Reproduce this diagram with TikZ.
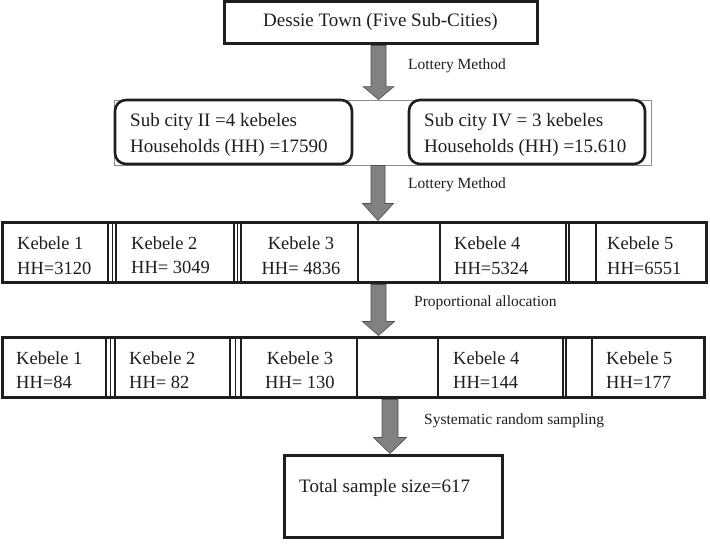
\documentclass[tikz,border=0pt]{standalone}
\usepackage{fontspec}
\setmainfont{Liberation Serif}
\usetikzlibrary{calc}
\definecolor{ink}{HTML}{1E1E1E}
\definecolor{arrowfill}{HTML}{818181}
\definecolor{arrowedge}{HTML}{505050}
\definecolor{framegray}{HTML}{8C8C8C}
\tikzset{
  bigbox/.style={draw=ink, line width=3pt, inner sep=0pt},
  rowbox/.style={draw=ink, line width=3pt, inner sep=0pt},
  subbox/.style={draw=ink, line width=2.6pt, rounded corners=11pt, inner sep=0pt},
  cellbox/.style={draw=ink, line width=2.6pt, inner sep=0pt},
  thincell/.style={draw=ink, line width=1.6pt, inner sep=0pt},
  thinframe/.style={draw=framegray, line width=0.9pt, inner sep=0pt},
  thinsep/.style={draw=ink, line width=1pt},
  maintext/.style={font=\fontsize{19}{26}\selectfont, text=ink, inner sep=0pt, align=left},
  celltext/.style={font=\fontsize{18.5}{24.5}\selectfont, text=ink, inner sep=0pt, align=left},
  methodlabel/.style={font=\fontsize{15.5}{18}\selectfont, text=ink, inner sep=0pt, anchor=west},
  blockarrow/.style={fill=arrowfill, draw=arrowedge, line width=0.6pt, line join=miter},
}
% #1 name, #2 style, #3 x1, #4 y1, #5 x2, #6 y2, #7 content
\newcommand\placebox[7]{\node[#2, minimum width={(#5)-(#3)}, minimum height={(#6)-(#4)}] (#1) at ({((#3)+(#5))/2},{((#4)+(#6))/2}) {#7};}
% #1 start, #2 tip, #3 shaft half width, #4 head half width, #5 head length
\newcommand\blockarrow[5]{\draw[blockarrow] ($(#1)+(-#3,1)$) -- ($(#2)+(-#3,-#5)$) -- ($(#2)+(-#4,-#5)$) -- (#2) -- ($(#2)+(#4,-#5)$) -- ($(#2)+(#3,-#5)$) -- ($(#1)+(#3,1)$) -- cycle;}
\begin{document}
\begin{tikzpicture}[x=1pt, y=-1pt]
\useasboundingbox (0,0) rectangle (710,544);
\fill[white] (0,0) rectangle (710,544);

% top box
\placebox{top}{bigbox, maintext}{224}{1.5}{537}{43}{Dessie Town (Five Sub-Cities)}

% sub-city frame and boxes
\placebox{subframe}{thinframe}{114}{100}{651}{165}{}
\placebox{subL}{subbox}{115}{100}{352}{164}{}
\placebox{subR}{subbox}{409}{100}{645}{164}{}
\node[maintext, anchor=west] (subLt) at (130,135) {Sub city II =4 kebeles\\Households (HH) =17590};
\node[maintext, anchor=west] (subRt) at (424,135) {Sub city IV = 3 kebeles\\Households (HH) =15.610};

% row 1
\placebox{row1}{rowbox}{2}{222}{706}{282}{}
\placebox{r1c1}{cellbox}{2}{222}{108}{282}{}
\placebox{r1c2}{cellbox}{116}{222}{234}{282}{}
\placebox{r1c3}{cellbox}{241}{222}{358}{282}{}
\placebox{r1e1}{cellbox}{358}{222}{440}{282}{}
\placebox{r1c4}{cellbox}{440}{222}{566}{282}{}
\placebox{r1e2}{thincell}{569}{222}{596}{282}{}
\placebox{r1c5}{cellbox}{596}{222}{706}{282}{}
\draw[thinsep] ($(r1c1.north east)!0.5!(r1c2.north west)$) -- ($(r1c1.south east)!0.5!(r1c2.south west)$);
\draw[thinsep] ($(r1c2.north east)!0.5!(r1c3.north west)$) -- ($(r1c2.south east)!0.5!(r1c3.south west)$);
\node[celltext, anchor=west] (t11) at (17,255.5) {Kebele 1\\HH=3120};
\node[celltext, anchor=west] (t12) at (131,255) {Kebele 2\\HH= 3049};
\node[celltext, align=center] (t13) at (301,255.5) {Kebele 3\\HH= 4836};
\node[celltext, anchor=west] (t14) at (454,255.5) {Kebele 4\\HH=5324};
\node[celltext, anchor=west] (t15) at (607,255.5) {Kebele 5\\HH=6551};

% row 2
\placebox{row2}{rowbox}{2}{337}{704}{397}{}
\placebox{r2c1}{cellbox}{2}{337}{106}{397}{}
\placebox{r2c2}{cellbox}{115}{337}{230}{397}{}
\placebox{r2c3}{cellbox}{241}{337}{357}{397}{}
\placebox{r2e1}{cellbox}{357}{337}{438}{397}{}
\placebox{r2c4}{cellbox}{438}{337}{563}{397}{}
\placebox{r2e2}{thincell}{566}{337}{592}{397}{}
\placebox{r2c5}{cellbox}{592}{337}{704}{397}{}
\draw[thinsep] ($(r2c1.north east)!0.5!(r2c2.north west)$) -- ($(r2c1.south east)!0.5!(r2c2.south west)$);
\draw[thinsep] ($(r2c2.north east)!0.5!(r2c3.north west)$) -- ($(r2c2.south east)!0.5!(r2c3.south west)$);
\node[celltext, anchor=west] (t21) at (16,370) {Kebele 1\\HH=84};
\node[celltext, anchor=west] (t22) at (129,370) {Kebele 2\\HH= 82};
\node[celltext, align=center] (t23) at (300,370) {Kebele 3\\HH= 130};
\node[celltext, anchor=west] (t24) at (453,370) {Kebele 4\\HH=144};
\node[celltext, anchor=west] (t25) at (606,370) {Kebele 5\\HH=177};

% final box
\placebox{final}{bigbox}{284}{455}{502}{537}{}
\node[maintext, anchor=west] (finalt) at (299,488) {Total sample size=617};

% arrows
\coordinate (a1s) at ($(top.south)+(-2,0)$);
\coordinate (a1e) at (a1s |- subframe.north);
\coordinate (a2s) at ($(subframe.south)+(-4.5,-1)$);
\coordinate (a2e) at (a2s |- row1.north);
\coordinate (a3s) at ($(row1.south)+(24.5,0)$);
\coordinate (a3e) at (a3s |- row2.north);
\coordinate (a4s) at ($(row2.south)+(37,0)$);
\coordinate (a4e) at (a4s |- final.north);
\blockarrow{a1s}{a1e}{7.5}{15.5}{13}
\blockarrow{a2s}{a2e}{7}{15.5}{17}
\blockarrow{a3s}{a3e}{7.5}{16}{14}
\blockarrow{a4s}{a4e}{8}{16.5}{16}

% method labels
\node[methodlabel] (l1) at (408,66) {Lottery Method};
\node[methodlabel] (l2) at (408,185) {Lottery Method};
\node[methodlabel] (l3) at (414,303) {Proportional allocation};
\node[methodlabel] (l4) at (424,421) {Systematic random sampling};
\end{tikzpicture}
\end{document}
